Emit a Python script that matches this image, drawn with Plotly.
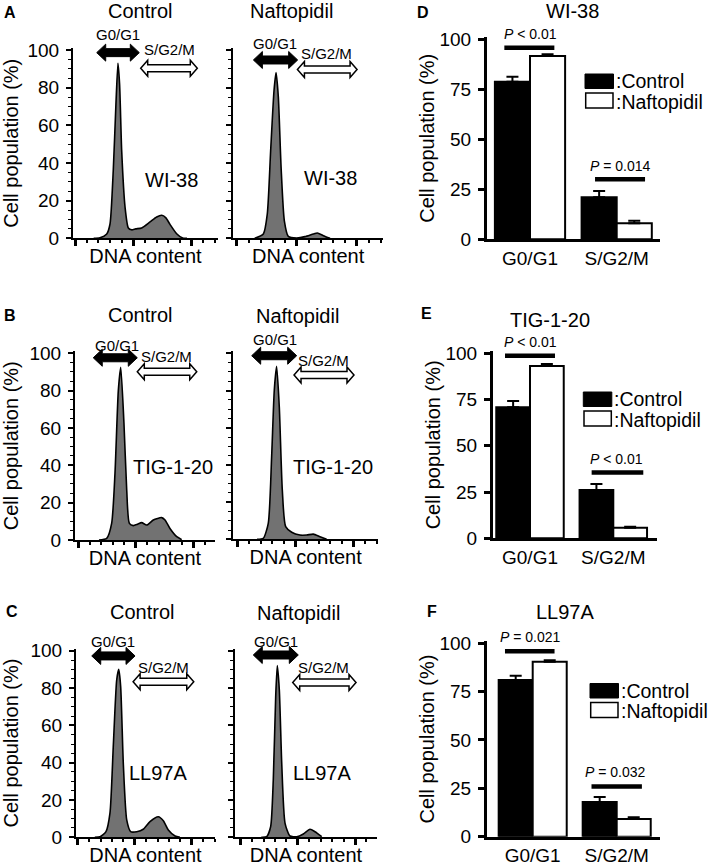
import plotly.graph_objects as go

W, H = 709, 866
FONT = "Liberation Sans, Arial, Helvetica, sans-serif"

# ---------------------------------------------------------------- data
# Flow-cytometry DNA histograms (x: DNA content, a.u.; y: cell population, %)
wi38_ctrl_dna = [16, 21.4, 27.2, 30, 32.8, 35.1, 36.8, 38.2, 40, 42.9, 45.7, 48.5, 52, 57.1, 64.3, 70, 74.3, 77.7, 81.4, 87.1, 92.3, 96]
wi38_ctrl_pop = [0, 0.3, 2.3, 7.6, 36.3, 71.7, 93, 82, 46.6, 16.5, 5.5, 4.5, 5, 5.5, 8.7, 11.3, 12.2, 11, 7.4, 2.4, 0.1, 0]
wi38_naf_dna = [15, 22.2, 25.5, 28.3, 31.1, 32.8, 34.7, 37, 39.7, 43, 50, 56.9, 63.9, 67.2, 72.2, 77.8]
wi38_naf_pop = [0, 2.3, 13, 46.6, 78.5, 88, 75, 37.6, 9.3, 1, 0.2, 0.9, 2.3, 2.8, 1.4, 0]
tig_ctrl_dna = [18, 24.7, 29, 31.9, 34.8, 36.9, 39.7, 42.1, 44.4, 47.8, 51.5, 55.1, 59.5, 65.2, 72.5, 75.4, 79.7, 85.6, 89.9]
tig_ctrl_pop = [0, 0.9, 8.9, 35.7, 80, 92.5, 62.5, 26.8, 8.9, 7.7, 8.5, 9.3, 8, 10.7, 12, 10.7, 6.2, 1.8, 0.2]
tig_naf_dna = [17, 22.4, 26.7, 29.6, 31.9, 33.9, 36.2, 38.8, 41.7, 46.9, 54, 59.8, 65.5, 71.3, 77]
tig_naf_pop = [0, 0.5, 8.6, 44.4, 80.3, 93, 71.3, 26.5, 6.8, 3.8, 2.3, 2.3, 2.8, 1.4, 0]
ll97a_ctrl_dna = [15, 19.6, 24.8, 28.3, 31.2, 34.2, 36, 37.7, 40, 43, 46.5, 51.8, 57.5, 63.4, 70.7, 75.1, 79.5, 85.4, 89.7]
ll97a_ctrl_pop = [0, 0.3, 3, 12.9, 48.6, 84.3, 90, 80.7, 39.7, 9.3, 3, 3, 4.3, 8.4, 11, 8.9, 3.9, 0.7, 0]
ll97a_naf_dna = [18, 22.7, 26.2, 28.5, 30.6, 32, 33.8, 35.9, 38.8, 43.1, 49, 54.8, 60.6, 65, 70.9]
ll97a_naf_pop = [0, 0.3, 5.7, 30.7, 75.3, 92, 78.9, 39.7, 7.5, 0.7, 0.3, 1.8, 4.3, 3, 0.3]

# Cell-cycle distribution (mean and error, %)
phases = ["G0/G1", "S/G2/M"]
wi38_ctrl_mean = [78.8, 21.0]
wi38_ctrl_err = [2.5, 3.2]
wi38_naf_mean = [91.7, 8.0]
wi38_naf_err = [0.8, 1.3]
tig_ctrl_mean = [70.8, 26.1]
tig_ctrl_err = [3.4, 3.3]
tig_naf_mean = [93.1, 5.7]
tig_naf_err = [1.1, 0.6]
ll97a_ctrl_mean = [81.0, 17.9]
ll97a_ctrl_err = [2.2, 2.6]
ll97a_naf_mean = [90.4, 9.2]
ll97a_naf_err = [0.8, 0.8]
wi38_p = ["<i>P</i> &lt; 0.01", "<i>P</i> = 0.014"]
tig_p = ["<i>P</i> &lt; 0.01", "<i>P</i> &lt; 0.01"]
ll97a_p = ["<i>P</i> = 0.021", "<i>P</i> = 0.032"]

# ---------------------------------------------------------------- layout config (pixels)
def fx(px):
    return px / W


def fy(py):
    return 1 - py / H


hist_panels = [
    dict(dna=wi38_ctrl_dna, pop=wi38_ctrl_pop, cell="WI-38", ylab=True,
         x0=75, xs=1.167, xl=73, xr=218, yb=238.3, y100=50,
         g1=(18.6, 55.1, 98.6), s=(56.3, 104.8, 90.3), g1t=(37.1, 108), st=(80.8, 100), ct=(82.9, 31)),
    dict(dna=wi38_naf_dna, pop=wi38_naf_pop, cell="WI-38", ylab=False,
         x0=236.7, xs=1.2, xl=233.3, xr=383, yb=238.3, y100=50,
         g1=(13.9, 50.8, 94.7), s=(50.6, 100.3, 89.7), g1t=(32, 103.6), st=(75, 98), ct=(77.8, 31.9)),
    dict(dna=tig_ctrl_dna, pop=tig_ctrl_pop, cell="TIG-1-20", ylab=True,
         x0=78.3, xs=1.15, xl=75, xr=215, yb=540, y100=353.3,
         g1=(13, 51.3, 97.6), s=(51.3, 103, 90.1), g1t=(33.4, 104), st=(76.9, 98.3), ct=(82.6, 39)),
    dict(dna=tig_naf_dna, pop=tig_naf_pop, cell="TIG-1-20", ylab=False,
         x0=237.3, xs=1.16, xl=233.3, xr=378, yb=539.3, y100=353.3,
         g1=(12.4, 51.2, 98.7), s=(48.9, 100.6, 88.3), g1t=(32.5, 107.5), st=(74.1, 95.9), ct=(82.8, 39)),
    dict(dna=ll97a_ctrl_dna, pop=ll97a_ctrl_pop, cell="LL97A", ylab=True,
         x0=77.7, xs=1.14, xl=76, xr=215, yb=837.3, y100=650.7,
         g1=(12.3, 50.3, 97.2), s=(48.6, 101.8, 83.4), g1t=(31.3, 104.8), st=(75.1, 91.1), ct=(70.7, 34.3)),
    dict(dna=ll97a_naf_dna, pop=ll97a_naf_pop, cell="LL97A", ylab=False,
         x0=240.7, xs=1.143, xl=235, xr=377, yb=837.3, y100=650.7,
         g1=(11, 50.4, 97.7), s=(45.5, 100.9, 82.9), g1t=(30.9, 104.8), st=(72.3, 91.1), ct=(70.9, 34.3)),
]

bar_panels = [
    dict(ctrl=wi38_ctrl_mean, ctrl_e=wi38_ctrl_err, naf=wi38_naf_mean, naf_e=wi38_naf_err, p=wi38_p,
         c0=530, cs=86.7, xl=486.7, xr=660, yb=239.3, y100=39.3,
         pbars=[(-0.296, 0.281, 95.8), (0.75, 1.327, 30)], ptxt=[(0, 102.8), (1.04, 36.5)],
         leg=(585, 74, 93)),
    dict(ctrl=tig_ctrl_mean, ctrl_e=tig_ctrl_err, naf=tig_naf_mean, naf_e=tig_naf_err, p=tig_p,
         c0=530, cs=83.3, xl=492.7, xr=656.7, yb=538.3, y100=353.3,
         pbars=[(-0.3, 0.3, 98.7), (0.74, 1.36, 35.5)], ptxt=[(0, 105.9), (1.04, 42.9)],
         leg=(583.3, 392, 411)),
    dict(ctrl=ll97a_ctrl_mean, ctrl_e=ll97a_ctrl_err, naf=ll97a_naf_mean, naf_e=ll97a_naf_err, p=ll97a_p,
         c0=532.7, cs=84, xl=486.7, xr=660, yb=836.7, y100=643.3,
         pbars=[(-0.33, 0.26, 95.9), (0.70, 1.30, 26)], ptxt=[(-0.03, 103), (0.98, 33.4)],
         leg=(590, 683.5, 702.5)),
]

texts_px = [
    ("<b>A</b>", 10, 12.5, 16), ("Control", 140, 11, 20), ("Naftopidil", 291, 11, 20),
    ("<b>D</b>", 423, 12.5, 16), ("WI-38", 572, 11, 20),
    ("<b>B</b>", 10, 315, 16), ("Control", 140, 315, 20), ("Naftopidil", 297, 316.5, 20),
    ("<b>E</b>", 427, 313.5, 16), ("TIG-1-20", 550, 320, 20),
    ("<b>C</b>", 11.7, 611.7, 16), ("Control", 141.7, 611.7, 20), ("Naftopidil", 298.3, 613.3, 20),
    ("<b>F</b>", 431.7, 611.7, 16), ("LL97A", 565, 611.7, 20),
]

# ---------------------------------------------------------------- build
fig = go.Figure()
axes = {}
shapes = []
annotations = []


def ann(text, xpx, ypx, size=20, **kw):
    d = dict(text=text, x=fx(xpx), y=fy(ypx), xref="paper", yref="paper", showarrow=False,
             font=dict(family=FONT, size=size, color="black"),
             xanchor="center", yanchor="middle")
    d.update(kw)
    annotations.append(d)


def arrow_path(xa, xb, yc, hs, hh, hl):
    pts = [(xa, yc), (xa + hl, yc - hh), (xa + hl, yc - hs), (xb - hl, yc - hs),
           (xb - hl, yc - hh), (xb, yc), (xb - hl, yc + hh), (xb - hl, yc + hs),
           (xa + hl, yc + hs), (xa + hl, yc + hh)]
    return "M" + " L".join(f"{fx(a):.5f},{fy(b):.5f}" for a, b in pts) + " Z"


tick_font = dict(family=FONT, size=19, color="black")
title_font = dict(family=FONT, size=20, color="black")

for i, p in enumerate(hist_panels, start=1):
    xa, ya = f"x{i}", f"y{i}"
    xr0 = (p["xl"] - p["x0"]) / p["xs"]
    xr1 = (p["xr"] - p["x0"]) / p["xs"]
    ky = (p["yb"] - p["y100"]) / 100.0
    ytop = p["yb"] - 101 * ky
    fig.add_trace(go.Scatter(
        x=p["dna"], y=p["pop"], xaxis=xa, yaxis=ya, mode="lines",
        line=dict(color="black", width=1.6, shape="spline", smoothing=0.6),
        fill="tozeroy", fillcolor="#727272", showlegend=False, hoverinfo="skip"))
    axes[f"xaxis{i}"] = dict(
        domain=[fx(p["xl"]), fx(p["xr"])], range=[xr0, xr1], anchor=ya,
        showline=True, linecolor="black", linewidth=2, showgrid=False, zeroline=False,
        ticks="outside", tickvals=[0, 50, 100], ticklen=6, tickwidth=3, tickcolor="black",
        showticklabels=False,
        minor=dict(dtick=10, tick0=0, ticks="outside", ticklen=3, tickwidth=1.5, tickcolor="black"),
        title=dict(text="DNA content", font=title_font, standoff=4), automargin=False)
    axes[f"yaxis{i}"] = dict(
        domain=[fy(p["yb"]), fy(ytop)], range=[0, 101], anchor=xa,
        showline=True, linecolor="black", linewidth=2, showgrid=False, zeroline=False,
        ticks="outside", tickvals=[0, 20, 40, 60, 80, 100], ticklen=5, tickwidth=2, tickcolor="black",
        showticklabels=p["ylab"], tickfont=tick_font, ticklabelstandoff=3,
        minor=dict(dtick=5, tick0=0, ticks="outside", ticklen=3, tickwidth=1, tickcolor="black"),
        title=dict(text="Cell population (%)" if p["ylab"] else "", font=title_font, standoff=8),
        automargin=False)

    def X(v, p=p):
        return p["x0"] + p["xs"] * v

    def Y(v, p=p, ky=ky):
        return p["yb"] - ky * v

    g0, g1, gy = p["g1"]
    shapes.append(dict(type="path", xref="paper", yref="paper",
                       path=arrow_path(X(g0), X(g1), Y(gy), 4, 8.5, 9),
                       fillcolor="black", line=dict(color="black", width=1)))
    s0, s1, sy = p["s"]
    shapes.append(dict(type="path", xref="paper", yref="paper",
                       path=arrow_path(X(s0), X(s1), Y(sy), 3.5, 8, 7),
                       fillcolor="white", line=dict(color="black", width=1.5)))
    ann("G0/G1", X(p["g1t"][0]), Y(p["g1t"][1]), size=15)
    ann("S/G2/M", X(p["st"][0]), Y(p["st"][1]), size=15)
    ann(p["cell"], X(p["ct"][0]), Y(p["ct"][1]), size=20)

for j, b in enumerate(bar_panels, start=7):
    xa, ya = f"x{j}", f"y{j}"
    xr0 = (b["xl"] - b["c0"]) / b["cs"]
    xr1 = (b["xr"] - b["c0"]) / b["cs"]
    ky = (b["yb"] - b["y100"]) / 100.0
    ytop = b["yb"] - 101 * ky
    fig.add_trace(go.Bar(
        x=phases, y=b["ctrl"], xaxis=xa, yaxis=ya, name="Control",
        marker=dict(color="black", line=dict(color="black", width=2)),
        error_y=dict(type="data", symmetric=False, array=b["ctrl_e"], arrayminus=[0, 0],
                     color="black", thickness=2, width=6),
        showlegend=False, hoverinfo="skip"))
    fig.add_trace(go.Bar(
        x=phases, y=b["naf"], xaxis=xa, yaxis=ya, name="Naftopidil",
        marker=dict(color="white", line=dict(color="black", width=2)),
        error_y=dict(type="data", symmetric=False, array=b["naf_e"], arrayminus=[0, 0],
                     color="black", thickness=2, width=6),
        showlegend=False, hoverinfo="skip"))
    axes[f"xaxis{j}"] = dict(
        domain=[fx(b["xl"]), fx(b["xr"])], range=[xr0, xr1], anchor=ya, type="category",
        categoryorder="array", categoryarray=phases,
        showline=True, linecolor="black", linewidth=2.5, showgrid=False, zeroline=False,
        ticks="", tickfont=tick_font, ticklabelstandoff=0, automargin=False)
    axes[f"yaxis{j}"] = dict(
        domain=[fy(b["yb"]), fy(ytop)], range=[0, 101], anchor=xa,
        showline=True, linecolor="black", linewidth=2.5, showgrid=False, zeroline=False,
        ticks="outside", tickvals=[0, 25, 50, 75, 100], ticklen=6, tickwidth=2.5, tickcolor="black",
        tickfont=tick_font, ticklabelstandoff=3,
        title=dict(text="Cell population (%)", font=title_font, standoff=0), automargin=False)

    def BX(v, b=b):
        return b["c0"] + b["cs"] * v

    def BY(v, b=b, ky=ky):
        return b["yb"] - ky * v

    for (a0, a1, py), txt, (tx, ty) in zip(b["pbars"], b["p"], b["ptxt"]):
        shapes.append(dict(type="line", xref=xa, yref=ya, x0=a0, x1=a1, y0=py, y1=py,
                           line=dict(color="black", width=4.5)))
        ann(txt, BX(tx), BY(ty), size=14)
    lx, ly1, ly2 = b["leg"]
    shapes.append(dict(type="rect", xref="paper", yref="paper",
                       x0=fx(lx), x1=fx(lx + 28.5), y0=fy(ly1), y1=fy(ly1 + 14.5),
                       fillcolor="black", line=dict(color="black", width=1)))
    shapes.append(dict(type="rect", xref="paper", yref="paper",
                       x0=fx(lx + 0.7), x1=fx(lx + 28), y0=fy(ly2), y1=fy(ly2 + 15),
                       fillcolor="white", line=dict(color="black", width=1.5)))
    ann(":Control", lx + 28.5, ly1 + 7, size=19.5, xanchor="left")
    ann(":Naftopidil", lx + 28.5, ly2 + 8.5, size=19.5, xanchor="left")

for t, x, y, s in texts_px:
    ann(t, x, y, size=s)

fig.update_layout(
    width=W, height=H, autosize=False,
    margin=dict(l=0, r=0, t=0, b=0, pad=0),
    paper_bgcolor="white", plot_bgcolor="rgba(0,0,0,0)",
    font=dict(family=FONT, color="black"),
    barmode="group", bargap=0.19, bargroupgap=0,
    shapes=shapes, annotations=annotations, showlegend=False,
    **axes)

fig.write_html("out.html", config={"displayModeBar": False},
               post_script="document.body.style.margin='0';document.body.style.padding='0';")
